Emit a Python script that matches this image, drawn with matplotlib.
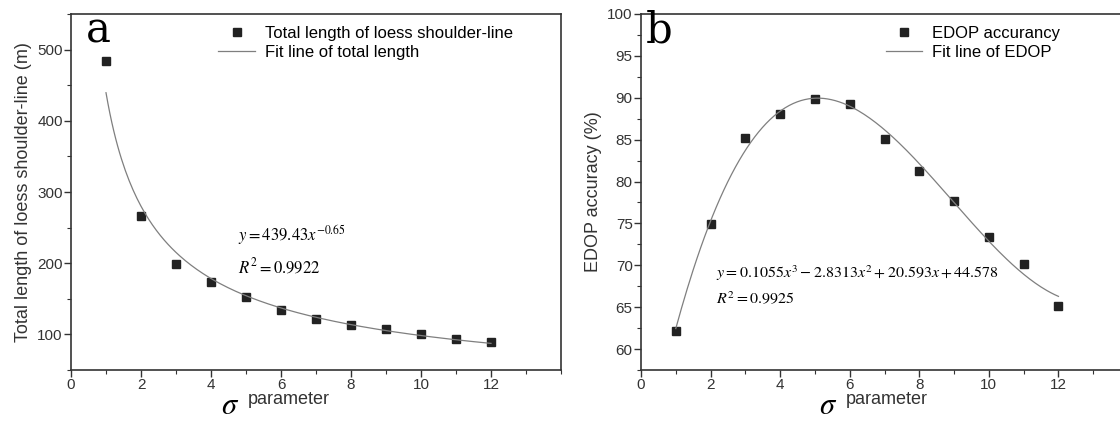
import numpy as np
import matplotlib.pyplot as plt
from matplotlib.ticker import MultipleLocator

plt.rcParams['font.family'] = ['Liberation Sans', 'DejaVu Sans']
plt.rcParams['mathtext.fontset'] = 'stix'

# data
sigma = [1, 2, 3, 4, 5, 6, 7, 8, 9, 10, 11, 12]
total_length = [484, 266, 199, 173, 152, 134, 122, 113, 107, 100, 94, 89]
edop_acc = [62.1, 74.9, 85.2, 88.1, 89.8, 89.3, 85.1, 81.3, 77.7, 73.4, 70.1, 65.1]

# fit equations printed on the chart
pow_coef = [439.43, -0.65]
poly_coef = [0.1055, -2.8313, 20.593, 44.578]

xf = np.linspace(1, 12, 200)
fit_len = pow_coef[0] * xf ** pow_coef[1]
fit_edop = np.polyval(poly_coef, xf)

W, H = 1120, 421
fig = plt.figure(figsize=(W / 100, H / 100), dpi=100)
ax1 = fig.add_axes([71 / W, 51 / H, 490 / W, 356 / H])
ax2 = fig.add_axes([641 / W, 51 / H, 487 / W, 356 / H])

gray = '#7f7f7f'
ax1.plot(sigma, total_length, 's', color='#222222', ms=5.5, label='Total length of loess shoulder-line')
ax1.plot(xf, fit_len, '-', color=gray, lw=0.9, label='Fit line of total length')
ax2.plot(sigma, edop_acc, 's', color='#222222', ms=5.5, label='EDOP accurancy')
ax2.plot(xf, fit_edop, '-', color=gray, lw=0.9, label='Fit line of EDOP')

ax1.set_xlim(0, 14)
ax1.set_ylim(50, 550)
ax1.yaxis.set_major_locator(MultipleLocator(100))
ax1.yaxis.set_minor_locator(MultipleLocator(50))
ax2.set_xlim(0, 14)
ax2.set_ylim(57.5, 100)
ax2.yaxis.set_major_locator(MultipleLocator(5))
ax2.yaxis.set_minor_locator(MultipleLocator(2.5))

for ax in (ax1, ax2):
    ax.set_xticks([0, 2, 4, 6, 8, 10, 12])
    ax.xaxis.set_minor_locator(MultipleLocator(1))
    ax.tick_params(which='major', length=5, width=1, labelsize=11, color='#333333',
                   labelcolor='#333333', pad=1)
    ax.tick_params(which='minor', length=3, width=0.8, color='#333333')
    for s in ax.spines.values():
        s.set_linewidth(1.2)
        s.set_color('#333333')
    ax.legend(loc='upper left', frameon=False, fontsize=12, handlelength=2.2,
              handletextpad=0.6, borderaxespad=0, labelspacing=0.25)

ax1.get_legend().set_bbox_to_anchor((0.287, 0.985))
ax2.get_legend().set_bbox_to_anchor((0.489, 0.985))

ax1.set_ylabel('Total length of loess shoulder-line (m)', fontsize=13, color='#333333', labelpad=4)
ax2.set_ylabel('EDOP accuracy (%)', fontsize=13, color='#333333', labelpad=4)

# x labels: big serif sigma + "parameter"
for x0 in (230, 828):
    fig.text(x0 / W, 1 - 414 / H, r'$\sigma$', fontsize=22, ha='center', va='baseline')
    fig.text((x0 + 18) / W, 1 - 400 / H, 'parameter', fontsize=13, ha='left', va='center', color='#333333')

ax1.text(0.03, 0.955, 'a', transform=ax1.transAxes, fontsize=30, family='DejaVu Serif',
         va='center', ha='left')
ax2.text(0.01, 0.955, 'b', transform=ax2.transAxes, fontsize=30, family='DejaVu Serif',
         va='center', ha='left')

ax1.text(0.34, 0.379, r'$y=439.43x^{-0.65}$', transform=ax1.transAxes, fontsize=12, va='center')
ax1.text(0.34, 0.292, r'$R^2=0.9922$', transform=ax1.transAxes, fontsize=12, va='center')
ax2.text(0.153, 0.272, r'$y=0.1055x^3-2.8313x^2+20.593x+44.578$', transform=ax2.transAxes,
         fontsize=11.5, va='center')
ax2.text(0.153, 0.2, r'$R^2=0.9925$', transform=ax2.transAxes, fontsize=11.5, va='center')

fig.savefig('out.png', dpi=100)
